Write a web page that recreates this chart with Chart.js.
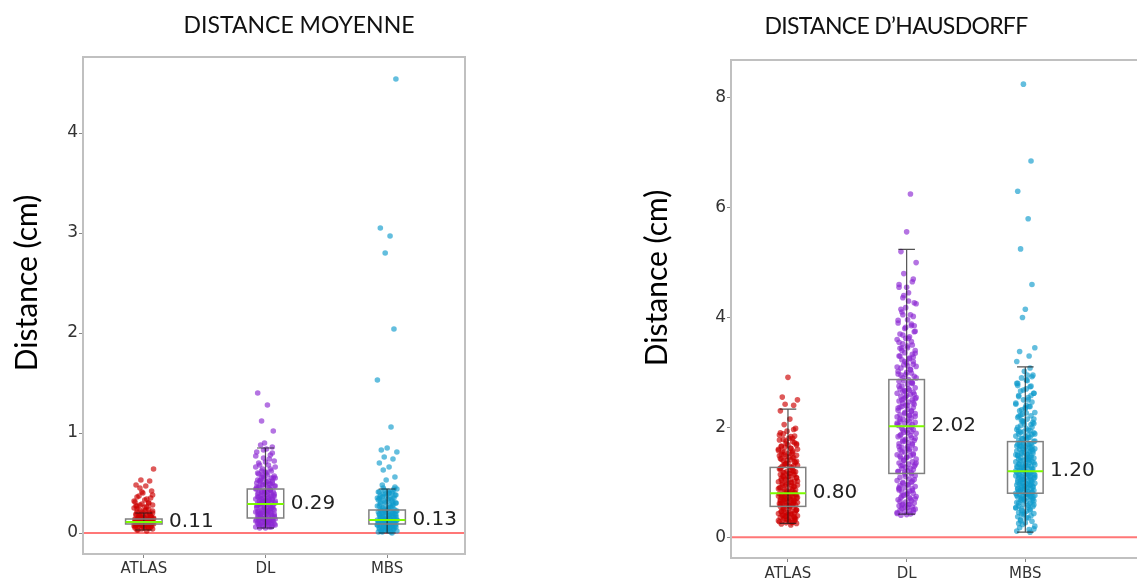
<!DOCTYPE html>
<html><head><meta charset="utf-8">
<script src="https://cdn.jsdelivr.net/npm/chart.js@4.4.1/dist/chart.umd.min.js"></script>
<style>
html,body{margin:0;padding:0;overflow:hidden;background:#fff;width:1137px;height:579px;}
#c1{position:absolute;left:0;top:0;}
#c2{position:absolute;left:560px;top:0;}
</style></head><body>
<canvas id="c1" width="560" height="579"></canvas>
<canvas id="c2" width="600" height="579"></canvas>
<script>
const categories = ['ATLAS', 'DL', 'MBS'];
const titleMoyenne = 'DISTANCE MOYENNE';
const titleHausdorff = 'DISTANCE D\u2019HAUSDORFF';
const yTitle = 'Distance (cm)';
const yTicksMoyenne = [0, 1, 2, 3, 4];
const yTicksHausdorff = [0, 2, 4, 6, 8];

// ---- Distance moyenne: individual values (cm) ----
const moyAtlas = [0.02,0.03,0.04,0.04,0.05,0.05,0.06,0.06,0.07,0.07,0.07,0.08,0.08,0.08,0.09,0.09,0.09,0.09,0.10,0.10,0.10,0.10,0.11,0.11,0.11,0.11,0.11,0.12,0.12,0.12,0.12,0.13,0.13,0.13,0.14,0.14,0.14,0.15,0.15,0.16,0.16,0.17,0.17,0.18,0.18,0.19,0.19,0.20,0.21,0.22,0.23,0.24,0.25,0.26,0.27,0.28,0.29,0.30,0.31,0.33,0.35,0.37,0.40,0.42,0.45,0.47,0.48,0.52,0.53,0.64,
 0.03,0.05,0.06,0.07,0.08,0.08,0.09,0.09,0.10,0.10,0.10,0.11,0.11,0.11,0.12,0.12,0.12,0.13,0.13,0.13,0.14,0.14,0.15,0.15,0.16,0.17,0.18,0.19,0.20,0.21,0.22,0.24,0.26,0.28,0.30,0.32,0.34,0.36,0.38,0.41,0.05,0.07,0.09,0.10,0.12,0.14,0.16,0.18,0.23,0.27];
const moyDL = [0.05,0.05,0.06,0.06,0.07,0.07,0.08,0.08,0.09,0.09,0.10,0.10,0.10,0.11,0.11,0.12,0.12,0.12,0.13,0.13,0.14,0.14,0.14,0.15,
 0.16,0.16,0.17,0.17,0.18,0.18,0.19,0.19,0.20,0.20,0.21,0.21,0.22,0.22,0.23,0.23,0.24,0.25,0.25,0.26,0.27,0.27,0.28,0.29,
 0.30,0.30,0.31,0.31,0.32,0.32,0.33,0.33,0.34,0.34,0.35,0.35,0.36,0.37,0.37,0.38,0.39,0.39,0.40,0.41,0.41,0.42,0.43,0.44,
 0.45,0.46,0.47,0.48,0.49,0.50,0.51,0.52,0.53,0.55,0.56,0.57,0.59,0.60,0.62,0.64,0.66,0.68,0.70,0.72,0.75,0.78,0.81,0.84,
 0.86,0.88,0.90,1.02,1.12,1.28,1.40,
 0.06,0.07,0.08,0.09,0.10,0.11,0.12,0.13,0.14,0.15,0.16,0.17,0.18,0.19,0.20,0.21,0.22,0.23,0.24,0.25,0.26,0.27,0.28,0.29,0.30,0.31,0.32,0.33,0.34,0.35,0.36,0.37,0.38,0.39,0.40,0.41,0.42,0.43,0.44,0.45,
 0.46,0.47,0.48,0.49,0.50,0.51,0.52,0.53,0.54,0.55,0.56,0.58,0.60,0.62,0.64,0.66,0.68,0.71,0.74,0.77,0.80,0.83,0.10,0.13,0.16,0.19,0.22,0.25,0.28,0.31,0.34,0.37,0.40,0.43,0.46,0.49,0.52,0.55,0.58,0.61];
const moyMBS = [0.00,0.01,0.01,0.02,0.02,0.03,0.03,0.04,0.04,0.05,0.05,0.05,0.06,0.06,0.07,0.07,0.08,0.08,0.08,0.09,
 0.09,0.09,0.10,0.10,0.10,0.10,0.11,0.11,0.11,0.11,0.12,0.12,0.12,0.12,0.13,0.13,0.13,0.13,0.13,0.13,
 0.14,0.14,0.15,0.15,0.16,0.16,0.17,0.17,0.18,0.18,0.19,0.19,0.20,0.20,0.21,0.21,0.22,0.22,0.23,0.23,
 0.24,0.25,0.26,0.27,0.28,0.29,0.30,0.31,0.32,0.33,0.34,0.35,0.36,0.37,0.38,0.39,0.40,0.41,0.42,0.44,
 0.48,0.53,0.56,0.63,0.66,0.70,0.74,0.76,0.81,0.83,0.85,1.06,1.53,2.04,2.80,2.97,3.05,4.54,
 0.01,0.02,0.03,0.04,0.05,0.06,0.07,0.08,0.09,0.10,0.11,0.12,0.13,0.14,0.15,0.16,0.17,0.18,0.19,0.20,0.21,0.22,0.23,0.24,0.25,0.26,0.27,0.28,0.29,0.30,
 0.31,0.32,0.33,0.34,0.35,0.36,0.37,0.38,0.39,0.40,0.41,0.42,0.43,0.44,0.02,0.04,0.06,0.08,0.10,0.12,0.14,0.16,0.18,0.20,0.25,0.30,0.35,0.40,0.45,0.46];
const moyQ1 = [0.09, 0.15, 0.09];
const moyMedian = [0.11, 0.29, 0.13];
const moyQ3 = [0.14, 0.44, 0.23];
const moyWhiskerLow = [0.03, 0.05, 0.00];
const moyWhiskerHigh = [0.20, 0.85, 0.44];

// ---- Distance d'Hausdorff: individual values (cm) ----
const hauAtlas = [0.22,0.24,0.25,0.26,0.27,0.28,0.29,0.30,0.31,0.32,0.33,0.34,0.35,0.36,0.37,0.38,0.39,0.40,0.41,0.42,0.43,0.44,0.45,0.46,0.47,0.49,0.50,0.52,0.54,0.56,
 0.57,0.58,0.58,0.59,0.60,0.61,0.62,0.62,0.63,0.64,0.65,0.66,0.67,0.67,0.68,0.69,0.70,0.71,0.72,0.72,0.73,0.74,0.75,0.76,0.77,0.77,0.78,0.79,0.79,0.80,
 0.81,0.83,0.84,0.86,0.87,0.89,0.90,0.92,0.93,0.95,0.96,0.98,0.99,1.01,1.02,1.04,1.05,1.07,1.08,1.10,1.11,1.13,1.14,1.16,1.17,1.19,1.20,1.22,1.24,1.27,
 1.29,1.31,1.33,1.35,1.37,1.39,1.41,1.43,1.45,1.47,1.49,1.51,1.53,1.55,1.57,1.60,1.62,1.65,1.68,1.71,1.74,1.77,1.80,1.84,1.88,1.93,1.98,2.05,2.15,2.30,
 2.40,2.42,2.50,2.55,2.91,
 0.26,0.30,0.34,0.38,0.42,0.46,0.50,0.54,0.58,0.62,0.66,0.70,0.74,0.78,0.82,0.86,0.90,0.94,0.98,1.02,1.06,1.10,1.14,1.18,1.22,1.26,1.30,1.34,1.38,1.42,1.46,1.50,1.54,1.58,1.62,1.66,1.70,1.75,1.80,1.86,
 0.32,0.36,0.40,0.44,0.48,0.52,0.56,0.60,0.64,0.68,0.72,0.76,0.80,0.84,0.88,0.92,0.96,1.00,1.04,1.08,1.12,1.16,1.20,1.24,1.28,1.32,1.36,1.40,1.44,1.48,1.52,1.56,1.60,1.64,1.68,1.72,1.78,1.83,1.90,1.96];
const hauDL = [0.40,0.41,0.42,0.43,0.45,0.46,0.48,0.49,0.51,0.52,0.54,0.55,0.57,0.59,0.60,0.62,0.64,0.66,0.68,0.70,0.72,0.74,0.76,0.78,0.80,0.82,0.84,0.86,0.88,0.90,0.92,0.94,0.96,0.98,1.00,1.03,1.06,1.09,1.12,1.15,
 1.17,1.19,1.21,1.23,1.25,1.27,1.29,1.31,1.33,1.35,1.37,1.40,1.42,1.44,1.46,1.48,1.50,1.52,1.55,1.57,1.59,1.61,1.63,1.65,1.68,1.70,1.72,1.74,1.76,1.78,1.81,1.83,1.85,1.87,1.89,1.91,1.94,1.96,1.98,2.01,
 2.03,2.05,2.07,2.09,2.11,2.13,2.15,2.17,2.19,2.21,2.23,2.25,2.27,2.29,2.31,2.33,2.36,2.38,2.40,2.42,2.44,2.46,2.48,2.50,2.52,2.54,2.56,2.58,2.60,2.62,2.64,2.66,2.68,2.70,2.72,2.75,2.78,2.81,2.84,2.87,
 2.90,2.93,2.96,2.99,3.02,3.05,3.08,3.11,3.14,3.17,3.20,3.23,3.26,3.30,3.33,3.36,3.40,3.44,3.48,3.52,3.56,3.60,3.65,3.70,3.75,3.80,3.85,3.90,3.96,4.02,4.10,4.18,4.27,4.36,4.45,4.55,4.65,4.80,5.00,5.20,
 5.56,6.25,
 0.45,0.50,0.55,0.60,0.65,0.70,0.75,0.80,0.85,0.90,0.95,1.00,1.05,1.10,1.15,1.20,1.25,1.30,1.35,1.40,1.45,1.50,1.55,1.60,1.65,1.70,1.75,1.80,1.85,1.90,1.95,2.00,2.05,2.10,2.15,2.20,2.25,2.30,2.35,2.40,
 2.45,2.50,2.55,2.60,2.65,2.70,2.75,2.80,2.85,2.90,2.95,3.00,3.05,3.10,3.15,3.20,3.25,3.30,3.35,3.40,3.45,3.50,3.55,3.62,3.68,3.74,3.82,3.88,3.95,4.05,4.15,4.25,4.40,4.55,4.70,
 0.58,0.72,0.88,1.02,1.18,1.32,1.47,1.62,1.77,1.92,2.08,2.22,2.37,2.52,2.67,2.82,2.97,3.12,3.28,3.45,3.62,3.85,4.05,4.30,4.60];
const hauMBS = [0.09,0.11,0.14,0.17,0.20,0.23,0.26,0.29,0.32,0.35,0.37,0.39,0.41,0.43,0.45,0.47,0.49,0.51,0.53,0.55,0.57,0.59,0.60,0.62,0.63,0.65,0.66,0.67,0.68,0.70,0.71,0.72,0.73,0.74,0.75,0.76,0.77,0.78,0.79,0.80,
 0.81,0.82,0.83,0.84,0.85,0.86,0.87,0.88,0.89,0.90,0.91,0.92,0.93,0.94,0.95,0.96,0.97,0.98,0.99,1.00,1.01,1.02,1.03,1.04,1.05,1.06,1.07,1.08,1.09,1.10,1.11,1.12,1.13,1.14,1.15,1.16,1.17,1.18,1.19,1.20,
 1.21,1.22,1.24,1.25,1.26,1.28,1.29,1.30,1.32,1.33,1.34,1.36,1.37,1.38,1.40,1.41,1.42,1.44,1.45,1.46,1.48,1.49,1.50,1.52,1.53,1.54,1.56,1.57,1.58,1.60,1.61,1.62,1.64,1.65,1.66,1.68,1.69,1.70,1.72,1.74,
 1.76,1.78,1.80,1.82,1.84,1.86,1.88,1.90,1.92,1.94,1.96,1.98,2.00,2.03,2.06,2.09,2.12,2.15,2.18,2.21,2.24,2.27,2.30,2.34,2.38,2.42,2.46,2.50,2.54,2.58,2.62,2.66,2.70,2.75,2.80,2.85,2.90,2.95,3.02,3.08,
 3.20,3.30,3.38,3.45,4.00,4.15,4.60,5.25,5.80,6.30,6.85,8.25,
 0.15,0.25,0.35,0.42,0.48,0.54,0.58,0.62,0.66,0.70,0.73,0.76,0.79,0.82,0.85,0.88,0.91,0.94,0.97,1.00,1.03,1.06,1.09,1.12,1.15,1.18,1.21,1.24,1.27,1.30,1.33,1.36,1.39,1.42,1.45,1.48,1.51,1.54,1.57,1.60,
 1.63,1.66,1.69,1.72,1.75,1.79,1.83,1.87,1.91,1.95,2.00,2.05,2.10,2.15,2.20,2.26,2.32,2.38,2.44,2.50,2.56,2.62,2.68,2.74,2.80,2.86,2.92,
 0.30,0.44,0.56,0.68,0.78,0.87,0.96,1.05,1.13,1.22,1.31,1.40,1.50,1.60,1.70,1.81,1.93,2.07,2.22,2.40,2.58,2.76,2.95,0.52,0.74,0.92,1.10,1.28,1.46,1.66,1.88,2.12,2.36];
const hauQ1 = [0.56, 1.16, 0.80];
const hauMedian = [0.80, 2.02, 1.20];
const hauQ3 = [1.27, 2.87, 1.74];
const hauWhiskerLow = [0.25, 0.42, 0.09];
const hauWhiskerHigh = [2.33, 5.24, 3.10];

// fixed horizontal strip-plot offsets (category units)
const jitter = [0.024,-0.056,0.072,-0.016,0.040,-0.072,0.008,0.056,-0.040,-0.008,0.064,-0.032,0.016,-0.064,0.048,-0.024,0.080,-0.048,0.000,0.032,-0.080,0.056,-0.016,0.024,-0.056,0.072,-0.040,0.008,0.048,-0.064,0.016,-0.032,0.064,-0.008,0.040,-0.072,0.032,-0.048,0.080,-0.024,0.000,0.056,-0.040,0.024,-0.064,0.048,-0.016,0.072,-0.056,0.008,-0.032,0.040,-0.080];

const groupColors = ['rgba(205,0,0,0.65)', 'rgba(140,40,210,0.65)', 'rgba(15,155,205,0.65)'];

function strip(values, gi) {
  const shift = gi * 17;
  return values.map((v, i) => ({ x: gi + 1 + jitter[(i + shift) % jitter.length], y: v }));
}

function makeDatasets(groups) {
  return groups.map((vals, gi) => ({
    type: 'scatter',
    label: categories[gi],
    data: strip(vals, gi),
    backgroundColor: groupColors[gi],
    borderWidth: 0,
    pointRadius: 2.8,
    pointHoverRadius: 2.8
  }));
}

const boxPlugin = {
  id: 'boxes',
  beforeDatasetsDraw(chart) {
    const { ctx, chartArea: a, scales: { y } } = chart;
    const y0 = y.getPixelForValue(0);
    ctx.save();
    ctx.strokeStyle = 'rgba(255,95,95,0.85)';
    ctx.lineWidth = 2;
    ctx.beginPath(); ctx.moveTo(a.left, y0); ctx.lineTo(a.right, y0); ctx.stroke();
    ctx.restore();
  },
  afterDatasetsDraw(chart, args, o) {
    const { ctx, chartArea: a, scales: { x, y } } = chart;
    ctx.save();
    o.median.forEach((m, i) => {
      const pos = i + 1;
      const xl = x.getPixelForValue(pos - 0.15), xr = x.getPixelForValue(pos + 0.15);
      const xc = x.getPixelForValue(pos);
      const cl = x.getPixelForValue(pos - 0.07), cr = x.getPixelForValue(pos + 0.07);
      const yq1 = y.getPixelForValue(o.q1[i]), yq3 = y.getPixelForValue(o.q3[i]);
      const ylo = y.getPixelForValue(o.low[i]), yhi = y.getPixelForValue(o.high[i]);
      const ym = y.getPixelForValue(m);
      ctx.strokeStyle = 'rgba(25,25,25,0.75)'; ctx.lineWidth = 1.2;
      ctx.beginPath();
      ctx.moveTo(xc, ylo); ctx.lineTo(xc, yhi);
      ctx.moveTo(cl, ylo); ctx.lineTo(cr, ylo);
      ctx.moveTo(cl, yhi); ctx.lineTo(cr, yhi);
      ctx.stroke();
      ctx.strokeStyle = '#808080'; ctx.lineWidth = 1.5;
      ctx.strokeRect(xl, yq3, xr - xl, yq1 - yq3);
      ctx.strokeStyle = '#7cfc00'; ctx.lineWidth = 2;
      ctx.beginPath(); ctx.moveTo(xl, ym); ctx.lineTo(xr, ym); ctx.stroke();
      ctx.fillStyle = '#222';
      ctx.font = '20px "DejaVu Sans"';
      ctx.textBaseline = 'middle'; ctx.textAlign = 'left';
      ctx.fillText(m.toFixed(2), xr + 7, ym);
    });
    ctx.strokeStyle = '#c0c0c0'; ctx.lineWidth = 2;
    ctx.strokeRect(a.left, a.top, a.right - a.left, a.bottom - a.top);
    ctx.restore();
  },
  afterDraw(chart, args, o) {
    const ctx = chart.ctx;
    ctx.save();
    ctx.fillStyle = '#111';
    ctx.font = '23px Lato';
    ctx.letterSpacing = o.titleSpacing;
    ctx.textAlign = 'center'; ctx.textBaseline = 'middle';
    ctx.fillText(o.title, o.titleX, o.titleY);
    ctx.letterSpacing = '0px';
    ctx.translate(o.yTitleX, o.yTitleY);
    ctx.rotate(-Math.PI / 2);
    ctx.font = '30px Lato';
    ctx.fillStyle = '#000';
    ctx.fillText(yTitle, 0, 0);
    ctx.restore();
  }
};

function makeChart(canvasId, groups, stats, yMin, yMax, yTicks, xMin, xMax, yWidth, xHeight, padding, xLabelPad) {
  return new Chart(document.getElementById(canvasId), {
    data: { datasets: makeDatasets(groups) },
    options: {
      responsive: false,
      animation: false,
      layout: { padding },
      plugins: { legend: { display: false }, tooltip: { enabled: false }, boxes: stats },
      scales: {
        x: {
          type: 'linear', min: xMin, max: xMax,
          afterBuildTicks: s => { s.ticks = categories.map((c, i) => ({ value: i + 1 })); },
          afterFit: s => { s.height = xHeight; },
          ticks: { callback: (v, i) => categories[i], font: { family: 'DejaVu Sans', size: 15 }, color: '#333', padding: xLabelPad, maxRotation: 0, autoSkip: false },
          grid: { display: true, drawOnChartArea: false, drawTicks: true, tickLength: 4, color: '#888' },
          border: { display: true, color: '#c0c0c0', width: 2 }
        },
        y: {
          type: 'linear', min: yMin, max: yMax,
          afterBuildTicks: s => { s.ticks = yTicks.map(v => ({ value: v })); },
          afterFit: s => { s.width = yWidth; },
          ticks: { font: { family: 'DejaVu Sans', size: 17 }, color: '#333', padding: 1 },
          grid: { display: true, drawOnChartArea: false, drawTicks: true, tickLength: 4, color: '#888' },
          border: { display: true, color: '#c0c0c0', width: 2 }
        }
      }
    },
    plugins: [boxPlugin]
  });
}

makeChart('c1', [moyAtlas, moyDL, moyMBS],
  { q1: moyQ1, median: moyMedian, q3: moyQ3, low: moyWhiskerLow, high: moyWhiskerHigh,
    title: titleMoyenne, titleX: 299, titleY: 26, titleSpacing: '0px', yTitleX: 27, yTitleY: 283 },
  -0.21, 4.76, yTicksMoyenne, 0.5, 3.64, 83, 25, { top: 57, right: 95, left: 0, bottom: 0 }, 2);

makeChart('c2', [hauAtlas, hauDL, hauMBS],
  { q1: hauQ1, median: hauMedian, q3: hauQ3, low: hauWhiskerLow, high: hauWhiskerHigh,
    title: titleHausdorff, titleX: 336, titleY: 27, titleSpacing: '-0.7px', yTitleX: 97, yTitleY: 278 },
  -0.38, 8.69, yTicksHausdorff, 0.52, 4.0, 171, 21, { top: 60, right: 16, left: 0, bottom: 0 }, 3);
</script>
</body></html>
